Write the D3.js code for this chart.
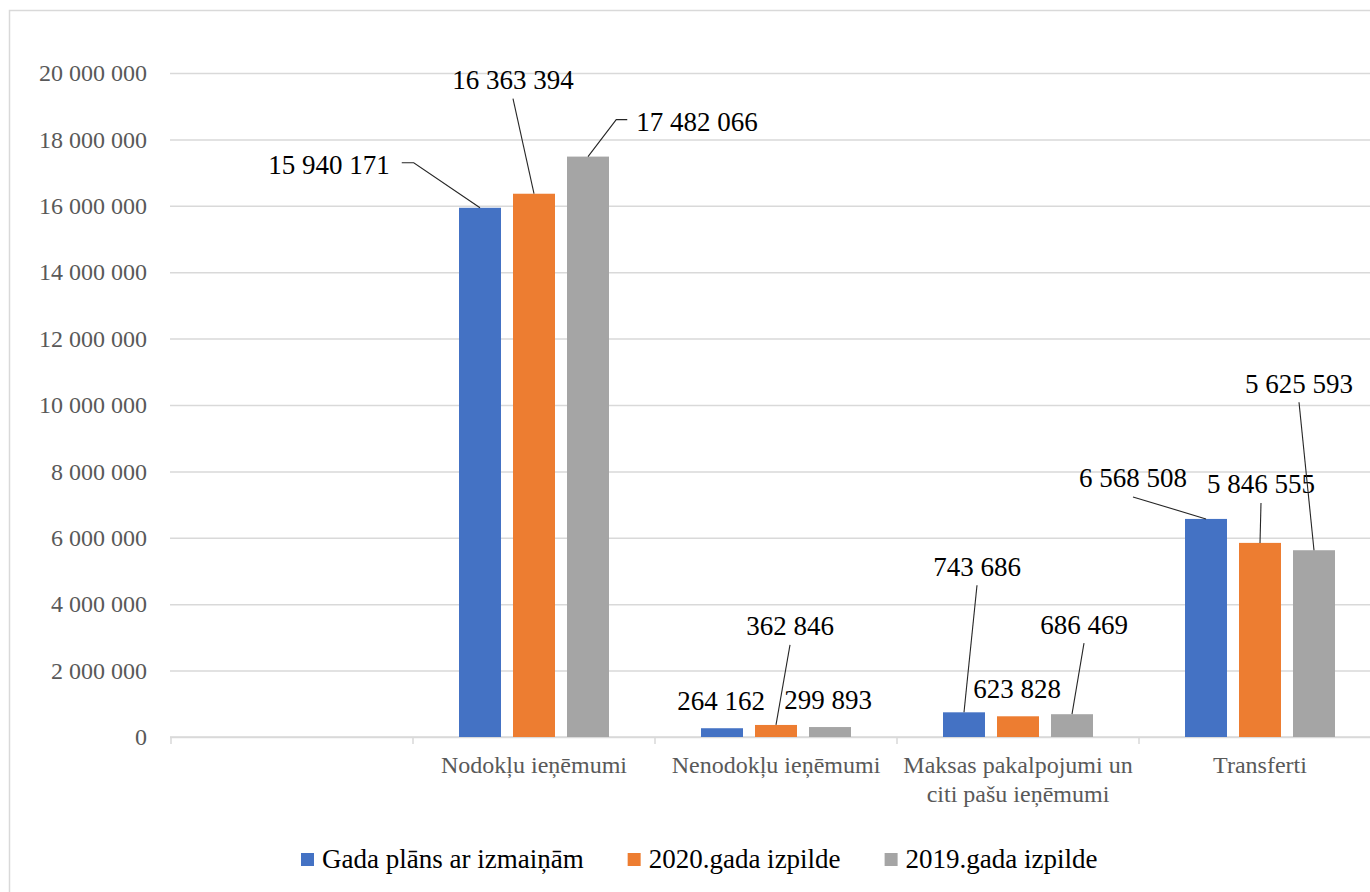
<!DOCTYPE html>
<html>
<head>
<meta charset="utf-8">
<script src="https://cdn.jsdelivr.net/npm/d3@7"></script>
<style>
  html, body { margin: 0; padding: 0; background: #fff; overflow: hidden; }
  svg text { font-family: "Liberation Serif", "Times New Roman", serif !important; }
</style>
</head>
<body>
<svg id="chart" width="1370" height="892"></svg>
<script>
// ---- data ----
const categories = ["", "Nodokļu ieņēmumi", "Nenodokļu ieņēmumi", "Maksas pakalpojumi un citi pašu ieņēmumi", "Transferti"];
const seriesNames = ["Gada plāns ar izmaiņām", "2020.gada izpilde", "2019.gada izpilde"];
const planValues = [null, 15940171, 264162, 743686, 6568508];
const exec2020Values = [null, 16363394, 362846, 623828, 5846555];
const exec2019Values = [null, 17482066, 299893, 686469, 5625593];
const yTicks = [0, 2000000, 4000000, 6000000, 8000000, 10000000, 12000000, 14000000, 16000000, 18000000, 20000000];

// ---- layout / styling (kept separate from data) ----
const FONT = '"Liberation Serif", "Times New Roman", serif';
const colors = ["#4472C4", "#ED7D31", "#A5A5A5"];
// label placement relative to bar top centre: [dx, dy, leader]
const labelOffsets = [
  [null, [-151, -43, "right"], [-1, -28, "none"], [13, -146, "bottom"], [-73, -41, "bottom"]],
  [null, [-21, -114, "bottom"], [14, -99, "bottom"], [-1, -28, "none"], [1, -59, "bottom"]],
  [null, [109, -35, "left"], [-2, -27, "none"], [12, -90, "bottom"], [-15, -167, "bottom"]]
];

const seriesValues = [planValues, exec2020Values, exec2019Values];
const svg = d3.select("#chart");

// chart frame (extends past the right/bottom edge as in the reference)
svg.append("rect").attr("x", 9.5).attr("y", 10.5).attr("width", 1420).attr("height", 920)
  .attr("fill", "none").attr("stroke", "#d9d9d9").attr("stroke-width", 1.5);

const x0 = d3.scaleBand().domain(categories.map((c, i) => i)).range([171, 171 + 242 * categories.length]).padding(0);
const x1 = d3.scaleBand().domain(seriesNames).range([46, 196]).paddingInner(12 / 54).paddingOuter(0);
const y = d3.scaleLinear().domain([0, 20000000]).range([737, 73]);

const fmt = v => d3.format(",")(v).replace(/,/g, " ");

// y axis with gridlines
const yAxis = svg.append("g").attr("transform", "translate(170,0)")
  .call(d3.axisLeft(y).tickValues(yTicks).tickSize(-1250).tickPadding(23).tickFormat(fmt));
yAxis.attr("font-family", null).attr("font-size", null);
yAxis.select(".domain").remove();
yAxis.selectAll("line").attr("stroke", "#d9d9d9").attr("stroke-width", 1.5);
yAxis.selectAll("text").attr("fill", "#595959").style("font-size", "24px").style("font-family", FONT);

// x axis line + ticks
svg.append("line").attr("x1", 170).attr("x2", 1400).attr("y1", y(0)).attr("y2", y(0))
  .attr("stroke", "#d9d9d9").attr("stroke-width", 1.5);
const bounds = categories.map((c, i) => x0(i)).concat([x0(categories.length - 1) + x0.step()]);
svg.append("g").selectAll("line").data(bounds).join("line")
  .attr("x1", d => d).attr("x2", d => d).attr("y1", y(0)).attr("y2", y(0) + 7)
  .attr("stroke", "#d9d9d9").attr("stroke-width", 1.5);

// category labels with wrapping
const catG = svg.append("g");
categories.forEach((c, i) => {
  if (!c) return;
  const cx = x0(i) + x0.bandwidth() / 2;
  const t = catG.append("text").attr("x", cx).attr("y", 773).attr("text-anchor", "middle")
    .attr("fill", "#595959").style("font-size", "24px").style("font-family", FONT);
  const words = c.split(" ");
  let line = [];
  let tspan = t.append("tspan").attr("x", cx).attr("dy", 0);
  words.forEach(w => {
    line.push(w);
    tspan.text(line.join(" "));
    if (tspan.node().getComputedTextLength() > 232 && line.length > 1) {
      line.pop();
      tspan.text(line.join(" "));
      line = [w];
      tspan = t.append("tspan").attr("x", cx).attr("dy", 29).text(w);
    }
  });
});

// bars
const barsG = svg.append("g");
seriesNames.forEach((s, si) => {
  const rows = seriesValues[si].map((v, i) => ({ v, i })).filter(d => d.v != null);
  barsG.append("g").selectAll("rect").data(rows).join("rect")
    .attr("x", d => x0(d.i) + x1(s))
    .attr("width", x1.bandwidth())
    .attr("y", d => y(d.v))
    .attr("height", d => y(0) - y(d.v))
    .attr("fill", colors[si]);
});

// data labels with leader lines
const lblG = svg.append("g");
seriesNames.forEach((s, si) => {
  seriesValues[si].forEach((v, i) => {
    if (v == null) return;
    const off = labelOffsets[si][i];
    const bx = x0(i) + x1(s) + x1.bandwidth() / 2, by = y(v);
    const lx = bx + off[0], ly = by + off[1];
    const t = lblG.append("text").attr("x", lx).attr("y", ly).attr("dy", "0.35em")
      .attr("text-anchor", "middle").attr("fill", "#000")
      .style("font-size", "27px").style("font-family", FONT).text(fmt(v));
    const tw = t.node().getComputedTextLength();
    let pts = null;
    if (off[2] === "bottom") pts = [[lx, ly + 19], [bx, by]];
    else if (off[2] === "right") pts = [[lx + tw / 2 + 12, ly - 2], [lx + tw / 2 + 24, ly - 2], [bx, by]];
    else if (off[2] === "left") pts = [[lx - tw / 2 - 9, ly - 2], [lx - tw / 2 - 20, ly - 2], [bx, by]];
    if (pts) lblG.append("path").attr("d", d3.line()(pts)).attr("fill", "none")
      .attr("stroke", "#262626").attr("stroke-width", 1.1);
  });
});

// legend
const legG = svg.append("g");
let lxPos = 301;
seriesNames.forEach((s, si) => {
  legG.append("rect").attr("x", lxPos).attr("y", 853).attr("width", 13).attr("height", 13).attr("fill", colors[si]);
  const t = legG.append("text").attr("x", lxPos + 21).attr("y", 868).attr("fill", "#000")
    .style("font-size", "27px").style("font-family", FONT).text(s);
  lxPos += 21 + t.node().getComputedTextLength() + 44;
});
</script>
</body>
</html>
